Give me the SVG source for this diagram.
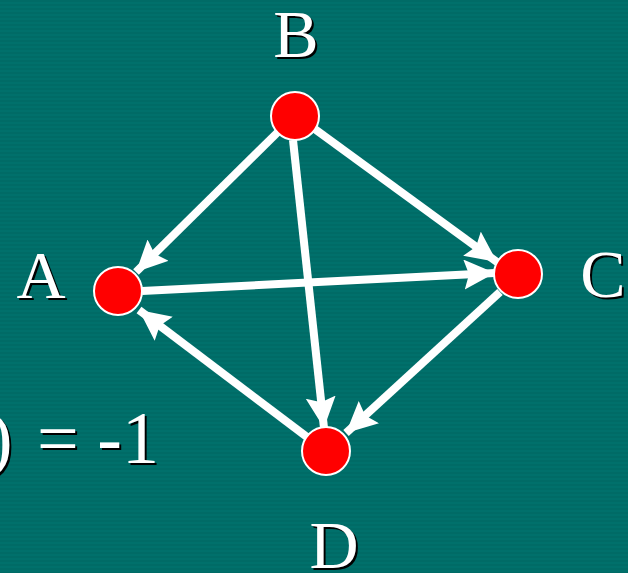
<svg xmlns="http://www.w3.org/2000/svg" width="628" height="573" viewBox="0 0 628 573">
<defs>
<pattern id="stripes" width="8" height="4" patternUnits="userSpaceOnUse">
<rect width="8" height="4" fill="#006b66"/>
<rect width="8" height="2" y="2" fill="#00706b"/>
</pattern>
<marker id="ah" markerUnits="userSpaceOnUse" markerWidth="36" markerHeight="34" refX="31" refY="15" orient="auto">
<path d="M0,0 L31,15 L0,30 L5,15 Z" fill="#ffffff"/>
</marker>
<style>
.edge{stroke:#ffffff;stroke-width:8;fill:none;marker-end:url(#ah);}
.node{fill:#ff0000;stroke:#ffffff;stroke-width:2;}
.lbl{font-family:"Liberation Serif","Times New Roman",serif;font-size:68px;fill:#ffffff;}
.sh{font-family:"Liberation Serif","Times New Roman",serif;font-size:68px;fill:#000000;}
.big{font-size:74px;}
</style>
</defs>
<rect width="628" height="573" fill="url(#stripes)"/>
<g id="connectors">
<line class="edge" x1="280" y1="130" x2="136" y2="272"/>
<line class="edge" x1="312" y1="127" x2="497" y2="262"/>
<line class="edge" x1="293" y1="140" x2="324" y2="428"/>
<line class="edge" x1="142" y1="291" x2="495" y2="273"/>
<line class="edge" x1="500" y1="292" x2="346" y2="433"/>
<line class="edge" x1="307" y1="437" x2="139" y2="310"/>
</g>
<g id="B"><circle class="node" cx="295" cy="116" r="24"/>
<text class="sh" x="298" y="59" text-anchor="middle">B</text>
<text class="lbl" x="296" y="57" text-anchor="middle">B</text></g>
<g id="A"><circle class="node" cx="118" cy="291" r="24"/>
<text class="sh" x="43" y="300" text-anchor="middle">A</text>
<text class="lbl" x="41" y="298" text-anchor="middle">A</text></g>
<g id="C"><circle class="node" cx="518" cy="274" r="24"/>
<text class="sh" x="605" y="299" text-anchor="middle">C</text>
<text class="lbl" x="603" y="297" text-anchor="middle">C</text></g>
<g id="D"><circle class="node" cx="326" cy="451" r="24"/>
<text class="sh" x="336" y="570" text-anchor="middle">D</text>
<text class="lbl" x="334" y="568" text-anchor="middle">D</text></g>
<g id="formula">
<text class="sh big" x="-10" y="465">)</text>
<text class="lbl big" x="-12" y="463">)</text>
<text class="sh big" x="39" y="465">= -1</text>
<text class="lbl big" x="37" y="463">= -1</text>
</g>
</svg>
